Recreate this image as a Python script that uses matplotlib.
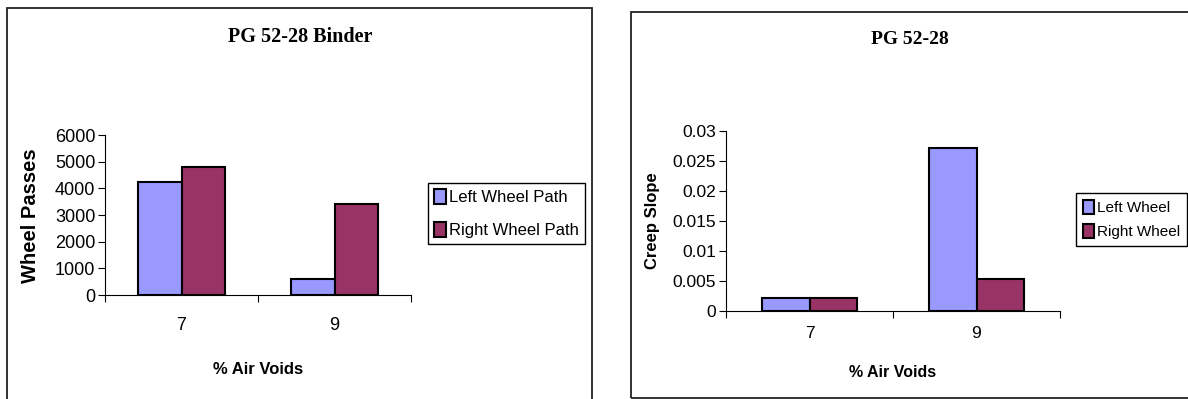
import numpy as np
import matplotlib
matplotlib.use('Agg')
import matplotlib.pyplot as plt
from matplotlib.patches import Rectangle, Patch

plt.rcParams['font.family'] = ['Liberation Sans', 'DejaVu Sans']

# data
air_voids = ['7', '9']
passes_left = [4250, 600]
passes_right = [4800, 3400]
creep_left = [0.0022, 0.0272]
creep_right = [0.0021, 0.0054]

c_left = '#9999FF'
c_right = '#993366'

W, H = 1188, 399
fig = plt.figure(figsize=(W / 100, H / 100), dpi=100)


def box(x0, y0, x1, y1):
    # outer chart border, pixel coords from top-left
    fig.patches.append(Rectangle((x0 / W, 1 - y1 / H), (x1 - x0) / W, (y1 - y0) / H,
                                 transform=fig.transFigure, fill=False,
                                 edgecolor='#222222', linewidth=1.3))


def rect(x0, y0, x1, y1):
    return [x0 / W, 1 - y1 / H, (x1 - x0) / W, (y1 - y0) / H]


def bar_chart(ax, left, right, yticks, tick_fs, pad_x):
    x = np.arange(len(air_voids))
    w = 1 / 3.5
    ax.bar(x - w / 2, left, w, color=c_left, edgecolor='black', linewidth=1.5)
    ax.bar(x + w / 2, right, w, color=c_right, edgecolor='black', linewidth=1.5)
    ax.set_xlim(-0.5, len(air_voids) - 0.5)
    ax.set_ylim(yticks[0], yticks[-1])
    ax.set_yticks(yticks)
    ax.set_xticks(x)
    ax.set_xticklabels(air_voids)
    ax.set_xticks(np.arange(len(air_voids) + 1) - 0.5, minor=True)
    ax.tick_params(axis='x', which='major', length=0, pad=pad_x, labelsize=tick_fs)
    ax.tick_params(axis='x', which='minor', length=5, direction='out', width=0.8)
    ax.tick_params(axis='y', length=5, width=0.8, direction='out', pad=2, labelsize=tick_fs)
    for s in ['top', 'right']:
        ax.spines[s].set_visible(False)
    for s in ['left', 'bottom']:
        ax.spines[s].set_linewidth(0.8)
    ax.set_facecolor('white')


# left chart: wheel passes
box(7, 8, 592, 405)
ax1 = fig.add_axes(rect(105, 135, 411, 295))
bar_chart(ax1, passes_left, passes_right, [0, 1000, 2000, 3000, 4000, 5000, 6000], 13, 16)
ax1.set_xlabel('% Air Voids', fontsize=12, fontweight='bold')
ax1.xaxis.set_label_coords(0.5, -(362 - 295) / 160)
ax1.set_ylabel('Wheel Passes', fontsize=14.5, fontweight='bold')
ax1.yaxis.set_label_coords(-(105 - 40) / 306, 0.494)
fig.text(300 / W, 1 - 37 / H, 'PG 52-28 Binder', ha='center', va='center',
         family='Liberation Serif', fontweight='bold', fontsize=14.5)
fig.legend(handles=[Patch(facecolor=c_left, edgecolor='black', linewidth=1.5, label='Left Wheel Path'),
                    Patch(facecolor=c_right, edgecolor='black', linewidth=1.5, label='Right Wheel Path')],
           loc='upper left', bbox_to_anchor=(428 / W, 1 - 183 / H), fontsize=12,
           frameon=True, fancybox=False, edgecolor='black', framealpha=1,
           handlelength=0.7, handleheight=1.0, handletextpad=0.2, borderpad=0.35,
           labelspacing=1.0, borderaxespad=0)

# right chart: creep slope
box(631, 12, 1195, 398)
ax2 = fig.add_axes(rect(726, 131, 1060, 311))
bar_chart(ax2, creep_left, creep_right, [0, 0.005, 0.01, 0.015, 0.02, 0.025, 0.03], 12.5, 11)
ax2.set_yticklabels(['0', '0.005', '0.01', '0.015', '0.02', '0.025', '0.03'])
ax2.set_xlabel('% Air Voids', fontsize=11.5, fontweight='bold')
ax2.xaxis.set_label_coords(0.5, -(365 - 311) / 180)
ax2.set_ylabel('Creep Slope', fontsize=12, fontweight='bold')
ax2.yaxis.set_label_coords(-(726 - 660) / 334, 0.5)
fig.text(910 / W, 1 - 40 / H, 'PG 52-28', ha='center', va='center',
         family='Liberation Serif', fontweight='bold', fontsize=14)
fig.legend(handles=[Patch(facecolor=c_left, edgecolor='black', linewidth=1.5, label='Left Wheel'),
                    Patch(facecolor=c_right, edgecolor='black', linewidth=1.5, label='Right Wheel')],
           loc='upper left', bbox_to_anchor=(1076 / W, 1 - 193 / H), fontsize=11,
           frameon=True, fancybox=False, edgecolor='black', framealpha=1,
           handlelength=0.7, handleheight=1.0, handletextpad=0.2, borderpad=0.45,
           labelspacing=0.6, borderaxespad=0)

fig.savefig('out.png', dpi=100, facecolor='white')
